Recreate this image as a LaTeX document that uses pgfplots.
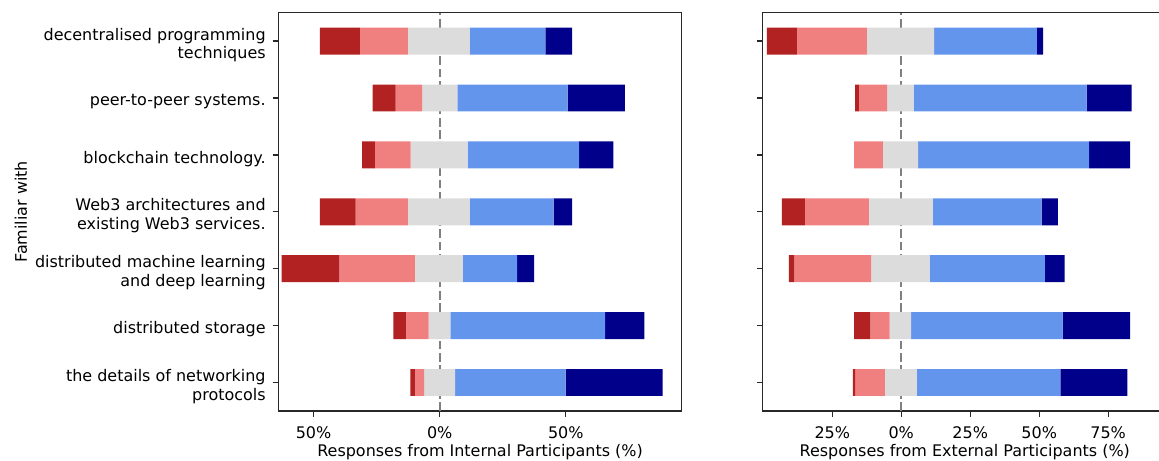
\documentclass[border=0pt]{standalone}
\usepackage{pgfplots}
\pgfplotsset{compat=1.18}
\usepackage{pgfplotstable}
\usepackage{fontspec}
\setmainfont{DejaVu Sans}
\definecolor{sdc}{RGB}{178,34,34}
\definecolor{dc}{RGB}{240,128,128}
\definecolor{nc}{RGB}{220,220,220}
\definecolor{ac}{RGB}{100,149,237}
\definecolor{sac}{RGB}{0,0,139}
\definecolor{framec}{RGB}{40,40,40}

% start = left edge of each bar (%), then the five segment widths (%)
\pgfplotstableread{
y start sd d n a sa
6 -47.5 15.9 19.0 24.6 29.9 10.6
5 -26.6 9.1 10.5 14.0 43.7 22.7
4 -30.7 5.0 14.2 22.6 44.2 13.5
3 -47.5 14.2 20.7 24.6 33.2 7.3
2 -62.6 22.8 30.0 19.0 21.5 6.7
1 -18.4 5.0 9.0 8.6 61.4 15.5
0 -11.6 1.8 3.6 12.3 43.8 38.5
}\internal

\pgfplotstableread{
y start sd d n a sa
6 -48.7 10.9 25.3 24.4 37.3 2.2
5 -16.7 1.3 10.3 9.6 62.7 16.3
4 -17.1 0.0 10.4 12.8 62.0 14.9
3 -43.3 8.4 23.2 23.2 39.4 5.9
2 -40.7 2.0 27.8 21.2 41.8 7.1
1 -17.1 5.9 7.0 7.8 54.9 24.5
0 -17.5 0.8 10.8 11.6 52.0 24.3
}\external

% the axes run shifted by +100 so that stacking starts on a positive base
\pgfplotsset{
  likert/.style={
    scale only axis,
    height=286.8pt,
    xbar stacked,
    bar width=19.4pt,
    ymin=-0.5, ymax=6.5,
    ytick={0,1,2,3,4,5,6},
    tick align=outside,
    major tick length=4.2pt,
    xtick pos=bottom, ytick pos=left,
    axis line style={framec, line width=0.9pt},
    every tick/.style={framec, line width=0.9pt},
    tick label style={font=\fontsize{11.5}{13.5}\selectfont},
    xticklabel style={yshift=-3.2pt},
    yticklabel style={yshift=-2.8pt, xshift=-1.5pt},
    label style={font=\fontsize{11.5}{13}\selectfont},
    xlabel style={at={(rel axis cs:0.5,-0.103)}, anchor=center},
    extra x ticks={100},
    extra x tick labels={},
    extra x tick style={major tick length=0pt, grid=major,
      major grid style={gray, line width=1.7pt, dash pattern=on 6.2pt off 2.7pt}},
  },
}

\begin{document}
\begin{tikzpicture}
\useasboundingbox (-200.5pt,-36pt) rectangle (634.0pt,295.9pt);
\begin{axis}[likert,
  at={(0pt,0pt)}, anchor=south west,
  width=290.3pt,
  xmin=36.1, xmax=195.9,
  xtick={50,100,150},
  xticklabels={50\%,0\%,50\%},
  yticklabels={{the details of networking\\protocols},
               {distributed storage},
               {distributed machine learning\\and deep learning},
               {Web3 architectures and\\existing Web3 services.},
               {blockchain technology.},
               {peer-to-peer systems.},
               {decentralised programming\\techniques}},
  yticklabel style={align=right},
  xlabel={Responses from Internal Participants (\%)},
  ylabel={Familiar with},
  ylabel style={at={(rel axis cs:-0.6387,0.5)}, anchor=center, rotate=0},
]
\addplot[draw=none, fill=none] table[x expr=\thisrow{start}+100, y=y]{\internal};
\addplot[draw=none, fill=sdc] table[x=sd, y=y]{\internal};
\addplot[draw=none, fill=dc] table[x=d, y=y]{\internal};
\addplot[draw=none, fill=nc] table[x=n, y=y]{\internal};
\addplot[draw=none, fill=ac] table[x=a, y=y]{\internal};
\addplot[draw=none, fill=sac] table[x=sa, y=y]{\internal};
\end{axis}

\begin{axis}[likert,
  at={(348.6pt,0pt)}, anchor=south west,
  width=291.1pt,
  xmin=49.75, xmax=196.3,
  xtick={75,100,125,150,175},
  xticklabels={25\%,0\%,25\%,50\%,75\%},
  yticklabels={},
  xlabel={Responses from External Participants (\%)},
]
\addplot[draw=none, fill=none] table[x expr=\thisrow{start}+100, y=y]{\external};
\addplot[draw=none, fill=sdc] table[x=sd, y=y]{\external};
\addplot[draw=none, fill=dc] table[x=d, y=y]{\external};
\addplot[draw=none, fill=nc] table[x=n, y=y]{\external};
\addplot[draw=none, fill=ac] table[x=a, y=y]{\external};
\addplot[draw=none, fill=sac] table[x=sa, y=y]{\external};
\end{axis}
\end{tikzpicture}
\end{document}
